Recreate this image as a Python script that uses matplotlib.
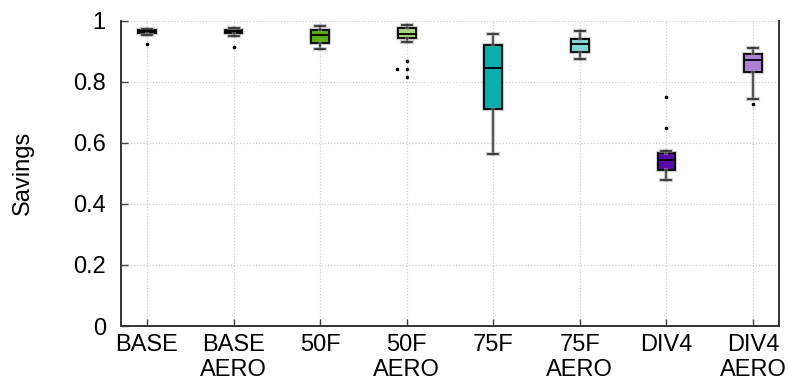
import matplotlib
matplotlib.use("Agg")
import matplotlib.pyplot as plt
import matplotlib.patheffects as pe

plt.rcParams['font.family'] = ['Liberation Sans', 'DejaVu Sans']

# Configurations on the x axis
categories = ["BASE", "BASE\nAERO", "50F", "50F\nAERO", "75F", "75F\nAERO", "DIV4", "DIV4\nAERO"]

# Box statistics per configuration
whisker_low  = [0.952, 0.949, 0.908, 0.930, 0.563, 0.873, 0.479, 0.744]
quartile_1   = [0.960, 0.960, 0.926, 0.942, 0.710, 0.897, 0.510, 0.831]
medians      = [0.965, 0.965, 0.952, 0.957, 0.843, 0.924, 0.544, 0.870]
quartile_3   = [0.970, 0.970, 0.969, 0.975, 0.920, 0.940, 0.566, 0.891]
whisker_high = [0.972, 0.975, 0.983, 0.984, 0.956, 0.965, 0.574, 0.911]
outliers = [
    [0.922],
    [0.913],
    [],
    [0.868, 0.840, 0.816],
    [],
    [],
    [0.648, 0.750],
    [0.727],
]
# A duplicated outlier value is drawn beside its twin so both stay visible
offset_outlier_box = 3
offset_outlier_value = 0.840

colors = ["#6a0a0a", "#6a2020", "#5aac0a", "#a8d47a", "#0aacac", "#7fd7d7", "#5a0aaa", "#ac80d5"]

yticks = [0, 0.2, 0.4, 0.6, 0.8, 1.0]
ytick_labels = ["0", "0.2", "0.4", "0.6", "0.8", "1"]

fig = plt.figure(figsize=(7.89, 3.87), dpi=100)
ax = fig.add_axes([0.1534, 0.1576, 0.8339, 0.7894])

positions = list(range(1, len(categories) + 1))
stats = []
for i in range(len(categories)):
    stats.append(dict(
        med=medians[i], q1=quartile_1[i], q3=quartile_3[i],
        whislo=whisker_low[i], whishi=whisker_high[i],
        fliers=outliers[i], label=categories[i]))

halo = [pe.Stroke(linewidth=3.0, foreground="#a0a0a0", alpha=0.5), pe.Normal()]

flier_style = dict(marker="o", markersize=1.6, markerfacecolor="black",
                   markeredgecolor="black", linestyle="none")

bp = ax.bxp(stats, positions=positions, widths=0.205, patch_artist=True,
            showfliers=True, capwidths=0.115,
            boxprops=dict(linewidth=1.3, edgecolor="black"),
            medianprops=dict(color="black", linewidth=1.3),
            whiskerprops=dict(color="#333333", linewidth=1.1),
            capprops=dict(color="#333333", linewidth=1.3),
            flierprops=flier_style,
            zorder=3)

ax.plot([positions[offset_outlier_box] - 0.11], [offset_outlier_value], zorder=3, **flier_style)

for patch, c in zip(bp["boxes"], colors):
    patch.set_facecolor(c)
    patch.set_path_effects(halo)
for ln in bp["whiskers"] + bp["caps"]:
    ln.set_path_effects(halo)

ax.set_xlim(0.7, 8.3)
ax.set_ylim(0, 1)
ax.set_xticks(positions)
ax.set_xticklabels(categories, fontsize=17, linespacing=1.18)
ax.set_yticks(yticks)
ax.set_yticklabels(ytick_labels, fontsize=17)
ax.set_ylabel("Savings", fontsize=17, labelpad=28)

ax.tick_params(axis="both", direction="in", length=5, width=1, color="#444444")
ax.tick_params(axis="x", pad=6)
ax.tick_params(axis="y", pad=11)

ax.grid(True, color="#cccccc", linestyle=(0, (1, 1.5)), linewidth=0.9, zorder=0)
ax.set_axisbelow(True)

ax.spines["top"].set_visible(False)
for side in ("left", "bottom", "right"):
    ax.spines[side].set_color("#333333")
    ax.spines[side].set_linewidth(1.4)

fig.savefig("out.png", dpi=100)
